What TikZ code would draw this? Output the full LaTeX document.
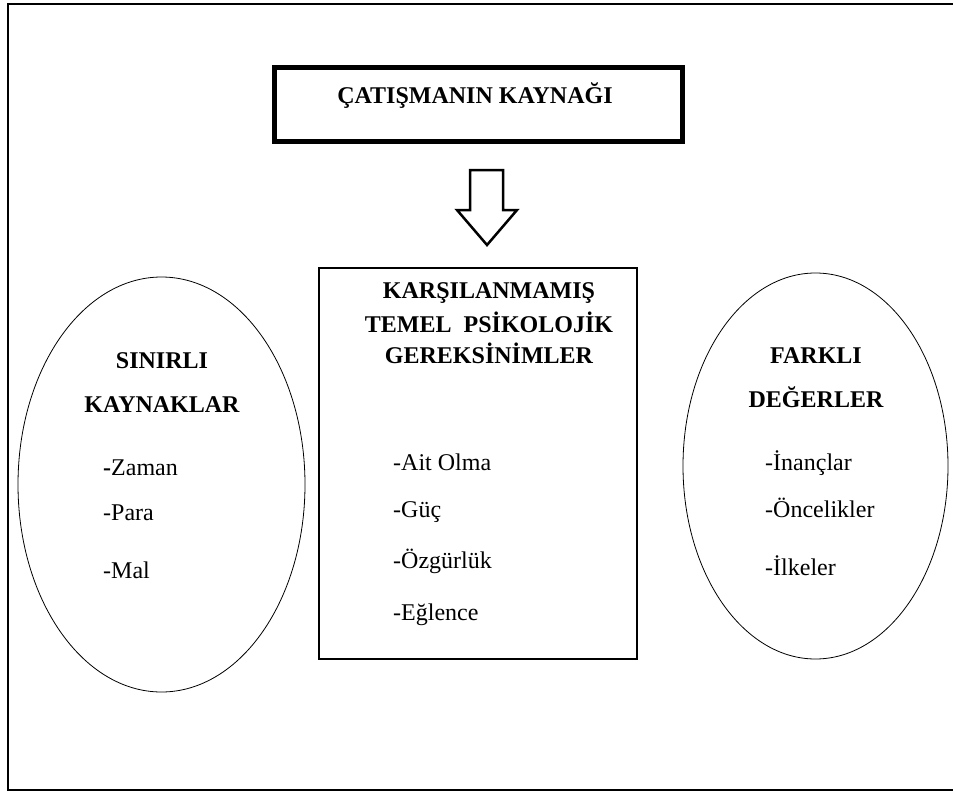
\documentclass[tikz,border=0pt]{standalone}
\usepackage{fontspec}
\setmainfont{Liberation Serif}
\usetikzlibrary{shapes.geometric}
\tikzset{my frame/.style={
  line width=2pt
  },
  my box/.style={draw, inner sep=0pt, line width=1.8pt},
  my ellipse/.style={draw, ellipse, inner sep=0pt, line width=0.8pt},
  my head/.style={font=\fontsize{24}{28}\selectfont\bfseries, anchor=base, inner sep=0pt},
  my item/.style={font=\fontsize{24}{28}\selectfont, anchor=base west, inner sep=0pt},
  my arrow/.style={draw, fill=white, line width=2.5pt, line join=miter}
}

\begin{document}
\begin{tikzpicture}[x=1pt,y=-1pt]
    \useasboundingbox (0,0) rectangle (953,792);
    \draw[my frame] (953,4) -- (8,4) -- (8,790) -- (953,790);

    \node[my box,line width=5pt,minimum width=408pt,minimum height=74pt] (K) at (478.5,104.5) {};
    \node[my head] (KT) at (475,103) {ÇATIŞMANIN KAYNAĞI};

    \draw[my arrow] (470,170) -- (503,170) -- (503,210) -- (517,210) -- (487,245) -- (457,210) -- (470,210) -- cycle;

    \node[my box,minimum width=318pt,minimum height=391pt] (G) at (478,463.5) {};
    \foreach \y/\t [count=\n] in {298/KARŞILANMAMIŞ,332/{TEMEL\ \ PSİKOLOJİK},363/GEREKSİNİMLER}
        \node[my head] (GT\n) at (489,\y) {\t};
    \foreach \y/\t [count=\n] in {470/-Ait Olma,517/-Güç,568/-Özgürlük,620/-Eğlence}
        \node[my item] (G\n) at (393,\y) {\t};

    \node[my ellipse,minimum width=287pt,minimum height=415pt] (S) at (161.5,484.5) {};
    \node[my head] (ST1) at (162,368) {SINIRLI};
    \node[my head] (ST2) at (162,412) {KAYNAKLAR};
    \foreach \y/\t [count=\n] in {475/{\textbf{-}Zaman},520/-Para,578/-Mal}
        \node[my item] (S\n) at (103,\y) {\t};

    \node[my ellipse,minimum width=265pt,minimum height=386pt] (F) at (815.5,466) {};
    \node[my head] (FT1) at (816,363) {FARKLI};
    \node[my head] (FT2) at (816,407) {DEĞERLER};
    \foreach \y/\t [count=\n] in {470/-İnançlar,517/-Öncelikler,575/-İlkeler}
        \node[my item] (F\n) at (765,\y) {\t};

\end{tikzpicture}
\end{document}
